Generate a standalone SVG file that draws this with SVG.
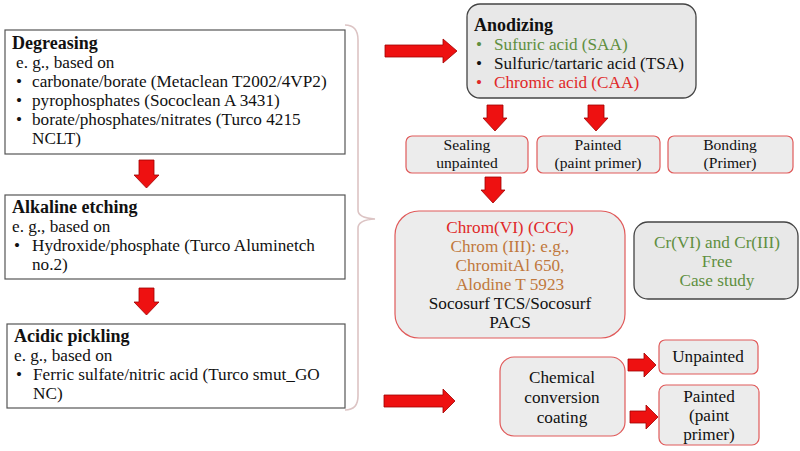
<svg xmlns="http://www.w3.org/2000/svg" width="800" height="451" viewBox="0 0 800 451" font-family="'Liberation Serif', 'DejaVu Serif', serif" font-size="17.2">
<style>
text{fill:#111}
.b{font-weight:bold;font-size:18px}
.c{text-anchor:middle}
.s{font-size:15.6px}
.box{fill:#fff;stroke:#555;stroke-width:1.2}
.gbox{fill:#e8e8e8;stroke:#444;stroke-width:1.3}
.pbox{fill:#ececec;stroke:#e05a5a;stroke-width:1.2}
.arr{fill:#ee1111;stroke:#a00000;stroke-width:0.8}
.grn{fill:#5f8f3f}
.red{fill:#e02828}
.brn{fill:#c0783c}
</style>
<rect width="800" height="451" fill="#fff"/>

<g id="connectors">
<path id="brace" d="M345,25 Q358,25 358,40 L358,210 Q358,218 375,219 Q358,220 358,228 L358,396 Q358,410 345,410" fill="none" stroke="#dcc4c4" stroke-width="1.6"/>
<path class="arr" d="M139,160 L154,160 L154,175 L159,175 L146.5,188 L134,175 L139,175 Z"/>
<path class="arr" d="M139,288 L154,288 L154,302 L159,302 L146.5,315 L134,302 L139,302 Z"/>
<path class="arr" d="M385,45 L443,45 L443,39 L457,51 L443,63 L443,57 L385,57 Z"/>
<path class="arr" d="M384,395 L443,395 L443,389 L455,401 L443,413 L443,407 L384,407 Z"/>
<path class="arr" d="M487,105 L503,105 L503,118 L507,118 L495,131 L483,118 L487,118 Z"/>
<path class="arr" d="M588,105 L604,105 L604,118 L608,118 L596,131 L584,118 L588,118 Z"/>
<path class="arr" d="M485,177 L501,177 L501,190 L505,190 L493,203 L481,190 L485,190 Z"/>
<path class="arr" d="M628,359 L644,359 L644,353 L656,365 L644,377 L644,371 L628,371 Z"/>
<path class="arr" d="M630,411 L646,411 L646,405 L658,417 L646,429 L646,423 L630,423 Z"/>
</g>

<g id="degreasing">
<rect class="box" x="5" y="30" width="340" height="124"/>
<text class="b" x="12" y="49">Degreasing</text>
<text x="16" y="68">e. g., based on</text>
<text x="16" y="87">•</text><text x="32" y="87">carbonate/borate (Metaclean T2002/4VP2)</text>
<text x="16" y="106">•</text><text x="32" y="106">pyrophosphates (Sococlean A 3431)</text>
<text x="16" y="125">•</text><text x="32" y="125">borate/phosphates/nitrates (Turco 4215</text>
<text x="32" y="144">NCLT)</text>
</g>

<g id="alkaline">
<rect class="box" x="5" y="195" width="340" height="84"/>
<text class="b" x="12" y="213">Alkaline etching</text>
<text x="12" y="232">e. g., based on</text>
<text x="14" y="251">•</text><text x="32" y="251">Hydroxide/phosphate (Turco Aluminetch</text>
<text x="32" y="270">no.2)</text>
</g>

<g id="acidic">
<rect class="box" x="7" y="324" width="338" height="84"/>
<text class="b" x="14" y="342">Acidic pickling</text>
<text x="14" y="361">e. g., based on</text>
<text x="16" y="380">•</text><text x="33" y="380">Ferric sulfate/nitric acid (Turco smut_GO</text>
<text x="33" y="399">NC)</text>
</g>

<g id="anodizing">
<rect class="gbox" x="467" y="4" width="229" height="94" rx="13"/>
<text class="b" x="474" y="31">Anodizing</text>
<text class="grn" x="476" y="50">•</text><text class="grn" x="494" y="50">Sufuric acid (SAA)</text>
<text x="476" y="69">•</text><text x="494" y="69">Sulfuric/tartaric acid (TSA)</text>
<text class="red" x="476" y="88">•</text><text class="red" x="494" y="88">Chromic acid (CAA)</text>
</g>

<g id="sealing">
<rect class="pbox" x="406" y="136" width="122" height="37" rx="6"/>
<text class="c s" x="467" y="150">Sealing</text>
<text class="c s" x="467" y="168">unpainted</text>
</g>

<g id="painted-top">
<rect class="pbox" x="537" y="136" width="123" height="37" rx="6"/>
<text class="c s" x="598" y="150">Painted</text>
<text class="c s" x="598" y="168">(paint primer)</text>
</g>

<g id="bonding">
<rect class="pbox" x="668" y="136" width="125" height="37" rx="6"/>
<text class="c s" x="730" y="150">Bonding</text>
<text class="c s" x="730" y="168">(Primer)</text>
</g>

<g id="chrom">
<rect class="pbox" x="395" y="211" width="230" height="127" rx="24"/>
<text class="c red" x="510" y="233">Chrom(VI) (CCC)</text>
<text class="c brn" x="510" y="252">Chrom (III): e.g.,</text>
<text class="c brn" x="510" y="271">ChromitAl 650,</text>
<text class="c brn" x="510" y="290">Alodine T 5923</text>
<text class="c" x="510" y="309">Socosurf TCS/Socosurf</text>
<text class="c" x="510" y="328">PACS</text>
</g>

<g id="crfree">
<rect class="gbox" x="634" y="222" width="164" height="77" rx="14"/>
<text class="c grn" x="717" y="248">Cr(VI) and Cr(III)</text>
<text class="c grn" x="717" y="267">Free</text>
<text class="c grn" x="717" y="286">Case study</text>
</g>

<g id="ccc">
<rect class="pbox" x="500" y="357" width="125" height="79" rx="14"/>
<text class="c" x="562" y="383">Chemical</text>
<text class="c" x="562" y="403">conversion</text>
<text class="c" x="562" y="423">coating</text>
</g>

<g id="unpainted">
<rect class="pbox" x="659" y="340" width="99" height="34" rx="6"/>
<text class="c" x="708" y="362">Unpainted</text>
</g>

<g id="painted-bottom">
<rect class="pbox" x="659" y="385" width="100" height="60" rx="7"/>
<text class="c" x="709" y="402">Painted</text>
<text class="c" x="709" y="421">(paint</text>
<text class="c" x="709" y="440">primer)</text>
</g>
</svg>
